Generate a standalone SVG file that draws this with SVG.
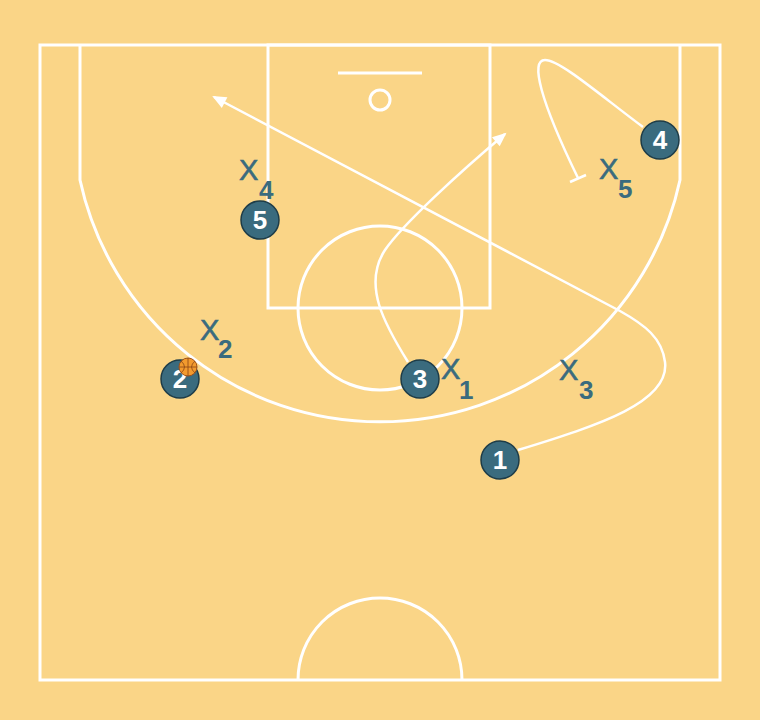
<svg xmlns="http://www.w3.org/2000/svg" width="760" height="720" viewBox="0 0 760 720">
<style>
.court{fill:none;stroke:#ffffff;stroke-width:3}
.mv{fill:none;stroke:#ffffff;stroke-width:2.5}
.pl{fill:#3a6b7e;stroke:#1d3c48;stroke-width:1.5}
.pn{font-family:"Liberation Sans",Arial,sans-serif;font-weight:bold;font-size:26px;fill:#ffffff;text-anchor:middle}
.dx{font-family:"Liberation Sans",Arial,sans-serif;font-size:29px;fill:#3a6b7e;stroke:#3a6b7e;stroke-width:0.6}
.ds{font-family:"Liberation Sans",Arial,sans-serif;font-weight:bold;font-size:26px;fill:#3a6b7e}
</style>
<defs>
<marker id="ah" viewBox="0 0 14 12" refX="12" refY="6" markerWidth="14" markerHeight="12" markerUnits="userSpaceOnUse" orient="auto" overflow="visible">
<path d="M0,0 L14,6 L0,12 Z" fill="#ffffff"/>
</marker>
</defs>
<rect x="0" y="0" width="760" height="720" fill="#fad587"/>
<g id="court">
<rect class="court" x="40" y="45" width="680" height="635"/>
<rect class="court" x="268" y="45" width="222" height="263"/>
<circle class="court" cx="380" cy="308" r="82"/>
<path class="court" d="M80,45 L80,180 A307,307 0 0 0 680,180 L680,45"/>
<line class="court" x1="338" y1="73" x2="422" y2="73" stroke-width="2"/>
<circle class="court" cx="380" cy="100" r="10"/>
<path class="court" d="M298,680 A82,82 0 0 1 462,680"/>
</g>
<g id="connectors">
<path class="mv" d="M408,362 C385,325 362,285 385,250 C402,225 460,172 505,134" marker-end="url(#ah)"/>
<path class="mv" d="M518,450 C600,425 670,402 665,362 C662,338 645,325 620,311 L214,97" marker-end="url(#ah)"/>
<path class="mv" d="M643,127 C600,95 560,60 545,60 C530,60 540,100 578,178"/>
<line class="mv" x1="570" y1="182" x2="586" y2="175"/>
</g>
<g id="p1"><circle class="pl" cx="500" cy="460" r="19"/><text class="pn" x="500" y="469">1</text></g>
<g id="p2"><circle class="pl" cx="180" cy="379" r="19"/><text class="pn" x="180" y="388">2</text></g>
<g id="p3"><circle class="pl" cx="420" cy="379" r="19"/><text class="pn" x="420" y="388">3</text></g>
<g id="p4"><circle class="pl" cx="660" cy="140" r="19"/><text class="pn" x="660" y="149">4</text></g>
<g id="p5"><circle class="pl" cx="260" cy="220" r="19"/><text class="pn" x="260" y="229">5</text></g>
<g id="ball">
<circle cx="188" cy="367" r="9" fill="#f29a2e" stroke="#a0521a" stroke-width="1"/>
<path d="M179,367 H197 M188,358 V376 M181,361 Q188,367 181,373 M195,361 Q188,367 195,373" fill="none" stroke="#8a4515" stroke-width="0.8"/>
</g>
<g id="x1"><text class="dx" x="441" y="379">X</text><text class="ds" x="459" y="399">1</text></g>
<g id="x2"><text class="dx" x="200" y="340">X</text><text class="ds" x="218" y="358">2</text></g>
<g id="x3"><text class="dx" x="559" y="380">X</text><text class="ds" x="579" y="399">3</text></g>
<g id="x4"><text class="dx" x="239" y="180">X</text><text class="ds" x="259" y="199">4</text></g>
<g id="x5"><text class="dx" x="599" y="179">X</text><text class="ds" x="618" y="198">5</text></g>
</svg>
